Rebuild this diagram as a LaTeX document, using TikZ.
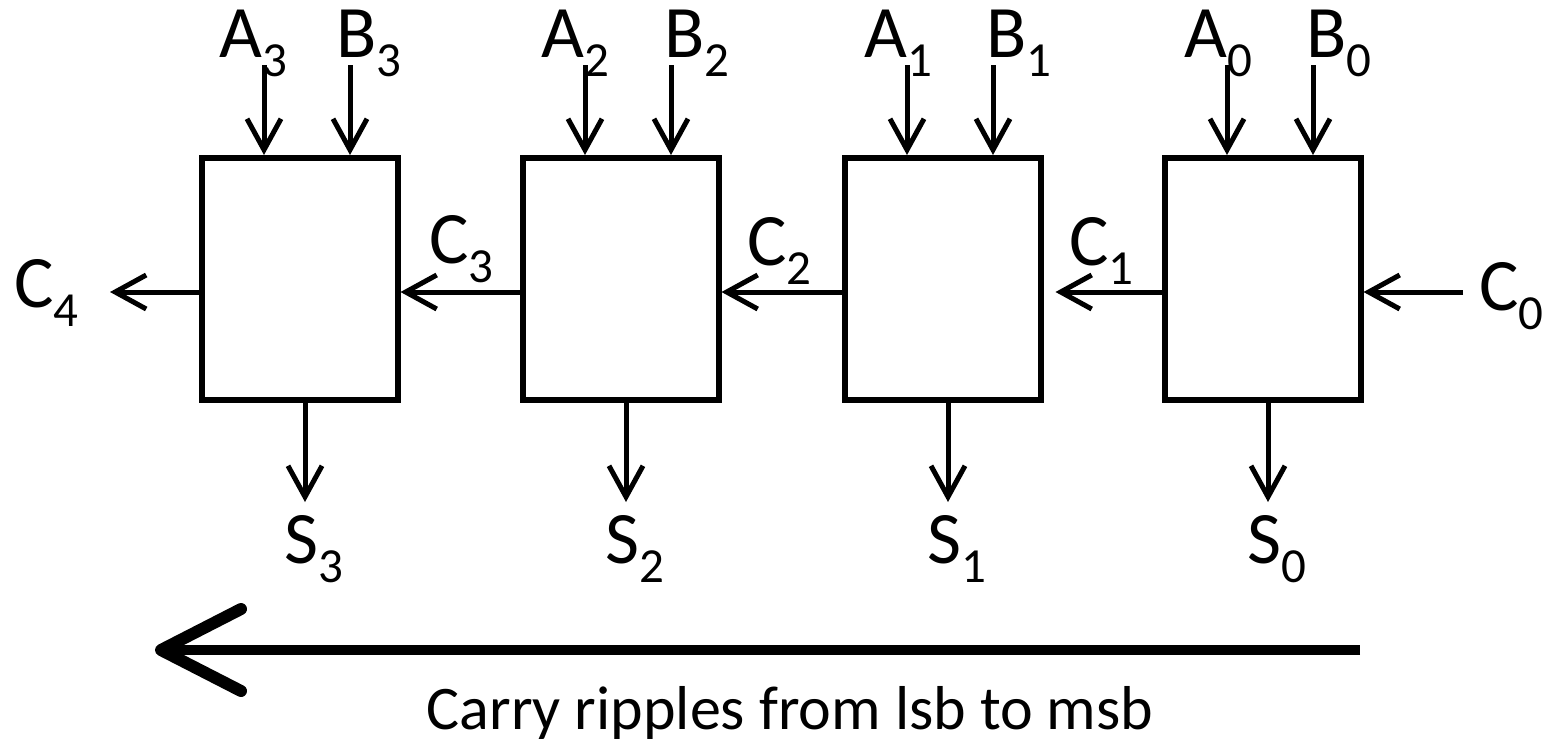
\documentclass[tikz,border=0pt]{standalone}
\usepackage{fontspec}
\setmainfont{Carlito}
\usetikzlibrary{arrows.meta}
\newcommand{\lbl}[2]{#1\raisebox{-19pt}{\fontsize{49}{49}\selectfont #2}}
\begin{document}
\begin{tikzpicture}[x=1pt,y=-1pt,
  blk/.style={draw, line width=5.5pt, minimum width=196pt, minimum height=242pt, inner sep=0pt, anchor=north west},
  sig/.style={line width=5pt, -{Straight Barb[length=31pt,width=34pt]}},
  bigarrow/.style={line width=10pt, -{Straight Barb[length=80pt,width=82pt,line width=12pt,round]}},
  txt/.style={font=\fontsize{74}{74}\selectfont, inner sep=0pt, anchor=base west}]
\useasboundingbox (0,0) rectangle (1549,745);
\coordinate (cy) at (0,292);
\foreach \i/\x/\al/\bl in {3/199/20/137, 2/520/21/144, 1/842/22/144, 0/1162/22/144}{
  \node[blk] (b\i) at (\x,155) {};
  \coordinate (a\i) at (\x+65,65);
  \coordinate (bb\i) at (\x+151,65);
  \coordinate (s\i) at (\x+106,502);
  \draw[sig] (a\i) -- (a\i |- b\i.north);
  \draw[sig] (bb\i) -- (bb\i |- b\i.north);
  \draw[sig] (s\i |- b\i.south) -- (s\i);
  \node[txt] (la\i) at (\x+\al,57) {\lbl{A}{\i}};
  \node[txt] (lb\i) at (\x+\bl,57) {\lbl{B}{\i}};
  \node[txt] (ls\i) at (\x+85,563) {\lbl{S}{\i}};
}
\coordinate (c4end) at (110,292);
\coordinate (c0start) at (1463,292);
\draw[sig] (b3.west |- cy) -- (c4end);
\draw[sig] (b2.west |- cy) -- (b3.east |- cy);
\draw[sig] (b1.west |- cy) -- (b2.east |- cy);
\draw[sig, shorten >=12pt] (b0.west |- cy) -- (b1.east |- cy);
\draw[sig] (c0start) -- (b0.east |- cy);
\node[txt] (lc4) at (14,307) {\lbl{C}{4}};
\node[txt] (lc3) at (429,263) {\lbl{C}{3}};
\node[txt] (lc2) at (747,265) {\lbl{C}{2}};
\node[txt] (lc1) at (1069,265) {\lbl{C}{1}};
\node[txt] (lc0) at (1479,310) {\lbl{C}{0}};
\coordinate (bigR) at (1360,650);
\coordinate (bigL) at (155,650);
\draw[bigarrow] (bigR) -- (bigL);
\node[font=\fontsize{62}{62}\selectfont, inner sep=0pt, anchor=base] (cap) at (790,729) {Carry ripples from lsb to msb};
\end{tikzpicture}
\end{document}
